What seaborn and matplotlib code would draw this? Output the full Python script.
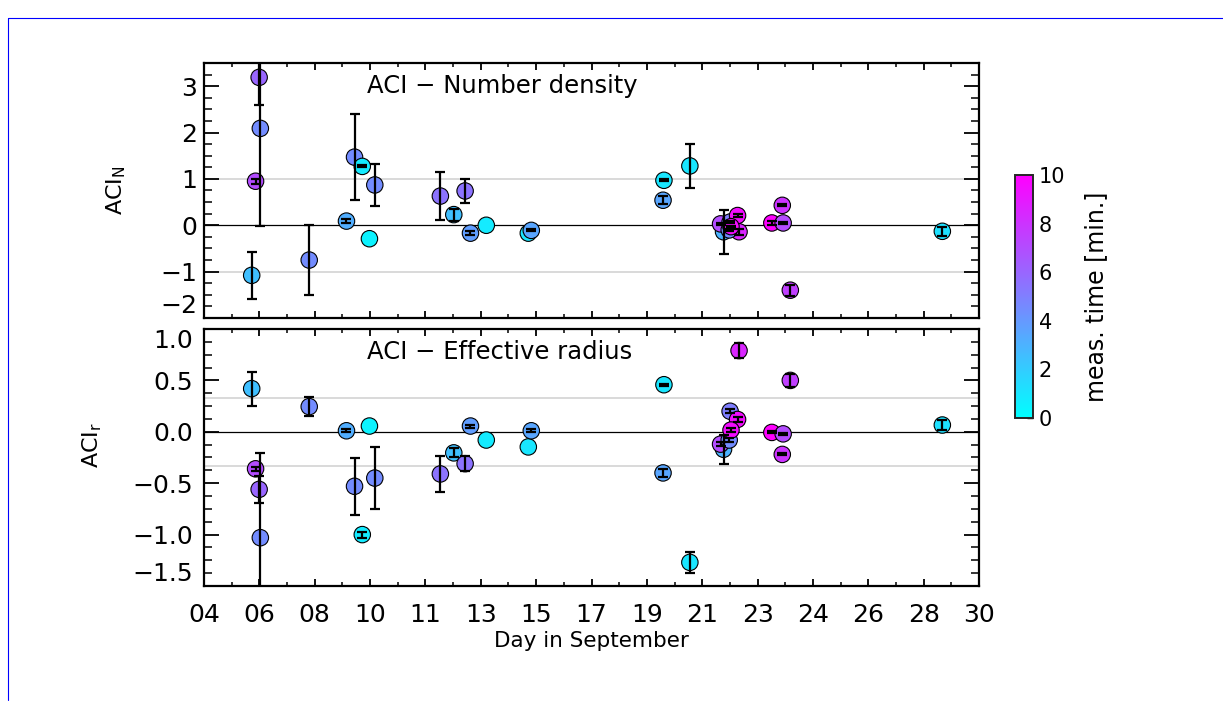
import numpy as np
import pandas as pd
import matplotlib
matplotlib.use("Agg")
import matplotlib.pyplot as plt
import seaborn as sns
from matplotlib.lines import Line2D
from matplotlib.colors import Normalize

# ---- data ----
day = [5.60, 5.73, 5.85, 5.89, 7.53, 8.78, 9.05, 9.31, 9.55, 9.73,
       11.93, 12.38, 12.76, 12.94, 13.47, 14.88, 14.98, 19.43, 19.40, 20.30,
       21.43, 21.33, 21.65, 21.90, 21.95, 21.62, 21.68,
       23.05, 23.43, 23.40, 23.67, 28.77]
meas_time = [2.5, 7.0, 6.0, 4.5, 4.5, 3.2, 4.5, 0.8, 0.5, 4.5,
             5.5, 2.5, 5.5, 3.8, 0.8, 1.0, 3.5, 1.0, 3.5, 1.0,
             3.0, 7.0, 5.0, 9.5, 8.5, 4.5, 9.5,
             10.0, 7.0, 8.0, 7.5, 1.2]
aci_n = [-1.08, 0.95, 3.19, 2.09, -0.75, 0.09, 1.47, 1.27, -0.29, 0.87,
         0.63, 0.23, 0.74, -0.17, 0.00, -0.17, -0.11, 0.97, 0.54, 1.28,
         -0.14, 0.03, 0.07, 0.21, -0.14, -0.10, -0.03,
         0.05, 0.05, 0.43, -1.40, -0.13]
aci_n_err = [0.51, 0.05, 0.59, 2.10, 0.75, 0.05, 0.92, 0.02, 0.0, 0.46,
             0.52, 0.13, 0.25, 0.05, 0.0, 0.0, 0.02, 0.02, 0.09, 0.48,
             0.47, 0.02, 0.02, 0.03, 0.06, 0.03, 0.02,
             0.04, 0.02, 0.02, 0.12, 0.10]
aci_r = [0.42, -0.36, -0.56, -1.03, 0.245, 0.01, -0.53, -1.00, 0.056, -0.45,
         -0.41, -0.205, -0.31, 0.056, -0.08, -0.147, 0.01, 0.458, -0.40, -1.27,
         -0.17, -0.12, 0.20, 0.12, 0.79, -0.08, 0.017,
         -0.006, -0.02, -0.22, 0.50, 0.066]
aci_r_err = [0.165, 0.02, 0.13, 0.82, 0.09, 0.015, 0.275, 0.03, 0.0, 0.30,
             0.175, 0.045, 0.07, 0.015, 0.0, 0.0, 0.015, 0.01, 0.04, 0.10,
             0.14, 0.02, 0.02, 0.02, 0.07, 0.02, 0.02,
             0.01, 0.01, 0.01, 0.06, 0.045]

xtick_labels = ['04', '06', '08', '10', '11', '13', '15', '17', '19', '21',
                '23', '24', '26', '28', '30']
n_ticks = [3, 2, 1, 0, -1, -2]
n_tick_labels = ['3', '2', '1', '0', '\u22121', '\u22122']
r_ticks = [1.0, 0.5, 0.0, -0.5, -1.0, -1.5]
r_tick_labels = ['1.0', '0.5', '0.0', '\u22120.5', '\u22121.0', '\u22121.5']
cbar_ticks = [0, 2, 4, 6, 8, 10]

df = pd.DataFrame({'day': day, 'time': meas_time,
                   'aci_n': aci_n, 'aci_n_err': aci_n_err,
                   'aci_r': aci_r, 'aci_r_err': aci_r_err})

sns.set_style("ticks")
plt.rcParams['font.family'] = ['DejaVu Sans']
plt.rcParams['axes.unicode_minus'] = True
for k in ['text.color', 'axes.labelcolor', 'xtick.color', 'ytick.color']:
    plt.rcParams[k] = 'black'

fig = plt.figure(figsize=(12.23, 7.07), dpi=100)
W, H = 1223.0, 707.0
ax1 = fig.add_axes([204 / W, 1 - 318 / H, 775 / W, 255 / H])
ax2 = fig.add_axes([204 / W, 1 - 586 / H, 775 / W, 257 / H])
cax = fig.add_axes([1015 / W, 1 - 418 / H, 18 / W, 243 / H])

norm = Normalize(0, 10)
cmap = plt.get_cmap('cool')
xticks = np.linspace(4, 30, 15)
xminor = (xticks[:-1] + xticks[1:]) / 2


def panel(ax, col, err, ylim, grid, ticks, ticklabels, minor_step, title, ylabel, lpad):
    ax.axhline(0, color='black', lw=0.9, zorder=1)
    for g in grid:
        ax.axhline(g, color='#d0d0d0', lw=1.1, zorder=0.5)
    sns.scatterplot(data=df, x='day', y=col, hue='time', palette='cool',
                    hue_norm=(0, 10), s=140, edgecolor='black', linewidth=0.8,
                    legend=False, ax=ax, zorder=2)
    sub = df[df[err] > 0]
    ax.errorbar(sub['day'], sub[col], yerr=sub[err], fmt='none',
                ecolor='black', elinewidth=1.6, capsize=3.3, capthick=1.6,
                zorder=3)
    ax.set_xlim(4, 30)
    ax.set_ylim(*ylim)
    ax.set_xticks(xticks)
    ax.set_xticks(xminor, minor=True)
    ax.set_yticks(ticks)
    ax.set_yticklabels(ticklabels)
    ax.set_yticks(np.arange(ylim[0], ylim[1] + 1e-6, minor_step), minor=True)
    ax.tick_params(axis='y', which='major', direction='in', length=11, width=1.3,
                   left=True, right=True, labelsize=18, pad=lpad)
    ax.tick_params(axis='y', which='minor', direction='in', length=6, width=1.1,
                   left=True, right=True)
    ax.tick_params(axis='x', which='major', direction='in', length=5, width=1.3,
                   top=True, bottom=True, labelsize=18, pad=12)
    ax.tick_params(axis='x', which='minor', direction='in', length=3, width=1.1,
                   top=True, bottom=True)
    for sp in ax.spines.values():
        sp.set_linewidth(1.6)
        sp.set_color('black')
        sp.set_visible(True)
    ax.text(0.21, 0.91, title, transform=ax.transAxes, fontsize=17.5,
            va='center', ha='left')
    ax.set_xlabel('')
    ax.set_ylabel(ylabel, fontsize=16)


panel(ax1, 'aci_n', 'aci_n_err', (-2.0, 3.5), [1, -1], n_ticks, n_tick_labels,
      0.25, 'ACI \u2212 Number density', 'ACI$_\\mathregular{N}$', 5)
panel(ax2, 'aci_r', 'aci_r_err', (-1.5, 1.0), [1 / 3, -1 / 3], r_ticks, r_tick_labels,
      0.125, 'ACI \u2212 Effective radius', 'ACI$_\\mathregular{r}$', 8)

ax1.set_xticklabels([])
ax2.set_xticklabels(xtick_labels)
ax1.yaxis.set_label_coords(-0.098, 0.5)
ax2.yaxis.set_label_coords(-0.129, 0.55)
ax2.set_xlabel('Day in September', fontsize=15.5, labelpad=3)

# labels sitting on the panel edges are pushed inside, as in the original
ax1.get_yticklabels()[-1].set_va('bottom')
ax2.get_yticklabels()[0].set_va('top')
ax2.get_yticklabels()[-1].set_va('bottom')

# colorbar
sm = plt.cm.ScalarMappable(norm=norm, cmap=cmap)
cb = fig.colorbar(sm, cax=cax, ticks=cbar_ticks)
cb.outline.set_linewidth(1.4)
cb.ax.set_yticks(np.arange(0, 11, 1), minor=True)
cb.ax.tick_params(which='major', direction='in', length=4, width=1.0, labelsize=15, pad=4)
cb.ax.tick_params(which='minor', direction='in', length=2, width=0.8)
cb.set_label('meas. time [min.]', fontsize=17, labelpad=14)

# thin blue frame of the original page
fig.add_artist(Line2D([8 / W, 1.0], [1 - 18 / H, 1 - 18 / H], color='blue', lw=0.8))
fig.add_artist(Line2D([8 / W, 8 / W], [0.01, 1 - 18 / H], color='blue', lw=0.8))

fig.savefig('out.png', dpi=100)
